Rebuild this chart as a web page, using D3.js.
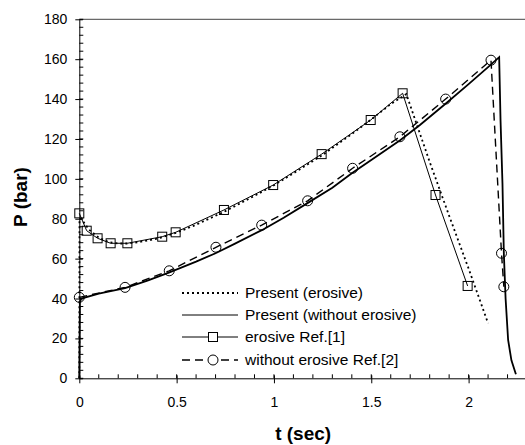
<!DOCTYPE html>
<html>
<head>
<meta charset="utf-8">
<script src="https://cdn.jsdelivr.net/npm/d3@7"></script>
<style>
  body { margin: 0; background: #fff; }
  svg { display: block; font-family: "Liberation Sans", Arial, sans-serif; }
</style>
</head>
<body>
<svg id="chart" width="525" height="445"></svg>
<script>
// Present (erosive) - dotted curve
const presentErosive = [
  [0, 0], [0.001, 80], [0.01, 80], [0.05, 74.5], [0.1, 70.5], [0.15, 68.3], [0.2, 67.6],
  [0.25, 67.6], [0.3, 68.2], [0.4, 70], [0.5, 73], [0.6, 77], [0.75, 83.8], [0.9, 91.5],
  [1.0, 96.8], [1.1, 102.8], [1.25, 112], [1.4, 122.5], [1.5, 129.8], [1.6, 137.5],
  [1.68, 142.5], [1.8, 108.5], [1.9, 81.5], [2.0, 55], [2.1, 27.6]
];
// Present (without erosive) - thick solid curve
const presentNoErosive = [
  [0, 0], [0.003, 38], [0.01, 40], [0.1, 42.5], [0.235, 45.2], [0.35, 49], [0.46, 53],
  [0.6, 58.5], [0.7, 62.7], [0.8, 67.5], [0.94, 74.4], [1.05, 80.5], [1.17, 87.7],
  [1.3, 95.5], [1.4, 102.8], [1.5, 109.5], [1.65, 119.5], [1.75, 127], [1.88, 137.5],
  [2.0, 147.5], [2.1, 156], [2.157, 161], [2.164, 129.5], [2.174, 97.7], [2.181, 62.7],
  [2.19, 40], [2.203, 19.2], [2.22, 9], [2.243, 2]
];
// erosive Ref.[1] - squares
const ref1 = [
  [0, 82.7], [0.038, 74], [0.094, 70.2], [0.161, 67.7], [0.247, 67.7], [0.426, 71],
  [0.495, 73.2], [0.743, 84.4], [0.996, 96.9], [1.245, 112.4], [1.497, 129.5],
  [1.661, 142.9], [1.83, 91.9], [1.995, 46.3]
];
// without erosive Ref.[2] - circles
const ref2 = [
  [0, 40.6], [0.235, 45.6], [0.462, 53.9], [0.702, 65.7], [0.937, 76.8], [1.173, 89],
  [1.404, 105.3], [1.647, 121.1], [1.882, 140], [2.115, 159.5], [2.169, 62.7], [2.181, 45.9]
];
const xTicks = [0, 0.5, 1, 1.5, 2];
const yTicks = [0, 20, 40, 60, 80, 100, 120, 140, 160, 180];
const legendNames = ["Present (erosive)", "Present (without erosive)", "erosive Ref.[1]", "without erosive Ref.[2]"];

const svg = d3.select("#chart");
const m = {left: 79.3, right: 527, top: 19.3, bottom: 378.3};

const x = d3.scaleLinear([0, 2.3], [m.left, m.right]);
const y = d3.scaleLinear([0, 180], [m.bottom, m.top]);

const series = [
  {data: presentErosive, dash: "2,3", width: 1.8, marker: null},
  {data: presentNoErosive, dash: null, width: 1.8, marker: null},
  {data: ref1, dash: null, width: 1, marker: "square"},
  {data: ref2, dash: "8,5", width: 1.4, marker: "circle"}
];

// top frame line
svg.append("line")
  .attr("x1", m.left).attr("x2", 525).attr("y1", m.top).attr("y2", m.top)
  .attr("stroke", "#444").attr("stroke-width", 1);

// minor ticks (inside)
svg.append("g").selectAll("line")
  .data(d3.range(0, 23).map(i => i / 10))
  .enter().append("line")
  .attr("x1", d => x(d)).attr("x2", d => x(d))
  .attr("y1", m.bottom).attr("y2", m.bottom - 4)
  .attr("stroke", "#000");
svg.append("g").selectAll("line")
  .data(d3.range(0, 181, 4))
  .enter().append("line")
  .attr("x1", m.left).attr("x2", m.left + 4)
  .attr("y1", d => y(d)).attr("y2", d => y(d))
  .attr("stroke", "#000");

// axes with major ticks
svg.append("g")
  .attr("transform", "translate(0," + m.bottom + ")")
  .call(d3.axisBottom(x).tickValues(xTicks).tickFormat(d3.format("")).tickSizeInner(5).tickSizeOuter(0).tickPadding(14))
  .call(g => g.select(".domain").attr("stroke", "#000"))
  .call(g => g.selectAll(".tick line").attr("y1", -3))
  .call(g => g.selectAll("text").attr("font-size", "14px").attr("font-family", "Liberation Sans, Arial, sans-serif"));

svg.append("g")
  .attr("transform", "translate(" + m.left + ",0)")
  .call(d3.axisLeft(y).tickValues(yTicks).tickSizeInner(4).tickSizeOuter(0).tickPadding(8))
  .call(g => g.select(".domain").attr("stroke", "#000"))
  .call(g => g.selectAll(".tick line").attr("x1", 3.5))
  .call(g => g.selectAll("text").attr("font-size", "14px").attr("font-family", "Liberation Sans, Arial, sans-serif"));

// titles
svg.append("text")
  .attr("x", (m.left + m.right) / 2).attr("y", 440)
  .attr("text-anchor", "middle").attr("font-weight", "bold").attr("font-size", "19px")
  .text("t (sec)");
svg.append("text")
  .attr("transform", "translate(27,197) rotate(-90)")
  .attr("text-anchor", "middle").attr("font-weight", "bold").attr("font-size", "19px")
  .text("P (bar)");

const line = d3.line().x(d => x(d[0])).y(d => y(d[1]));

function drawMarker(g, type, cx, cy, fill) {
  if (type === "square") {
    g.append("rect").attr("x", cx - 4.5).attr("y", cy - 4.5).attr("width", 9).attr("height", 9)
      .attr("fill", fill).attr("stroke", "#000").attr("stroke-width", 1);
  } else if (type === "circle") {
    g.append("circle").attr("cx", cx).attr("cy", cy).attr("r", 5)
      .attr("fill", fill).attr("stroke", "#000").attr("stroke-width", 1);
  }
}

const plot = svg.append("g");
series.forEach(s => {
  plot.append("path")
    .attr("d", line(s.data))
    .attr("fill", "none")
    .attr("stroke", "#000")
    .attr("stroke-width", s.width)
    .attr("stroke-dasharray", s.dash);
  if (s.marker) {
    s.data.forEach(d => drawMarker(plot, s.marker, x(d[0]), y(d[1]), "none"));
  }
});

// legend
const legendY = [293, 315, 337, 360];
const leg = svg.append("g");
series.forEach((s, i) => {
  const ly = legendY[i];
  leg.append("line")
    .attr("x1", 182).attr("x2", 238).attr("y1", ly).attr("y2", ly)
    .attr("stroke", "#000").attr("stroke-width", i === 1 ? 1 : s.width)
    .attr("stroke-dasharray", s.dash);
  if (s.marker) drawMarker(leg, s.marker, 213, ly, "#fff");
  leg.append("text")
    .attr("x", 245).attr("y", ly).attr("dy", "0.35em")
    .attr("font-size", "15.5px")
    .text(legendNames[i]);
});
</script>
</body>
</html>
